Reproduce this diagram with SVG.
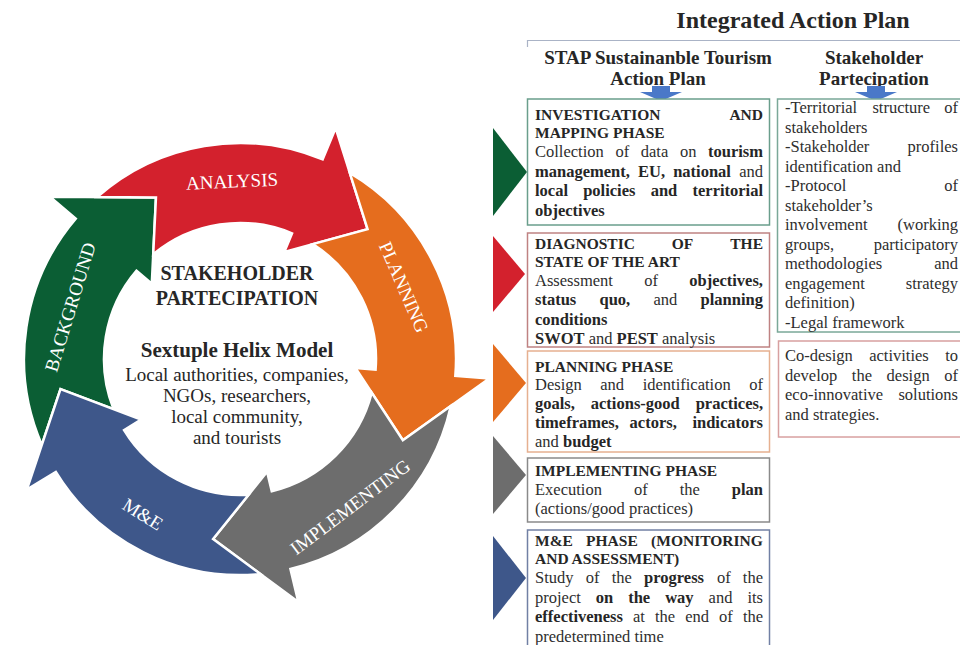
<svg xmlns="http://www.w3.org/2000/svg" xmlns:xlink="http://www.w3.org/1999/xlink" width="960" height="645" viewBox="0 0 960 645">
  <defs>
    <style>
      .lbl { font-family: "Liberation Serif", serif; font-size: 19px; fill: #ffffff; text-anchor: middle; }
      .ctr { font-family: "Liberation Serif", serif; fill: #262626; text-anchor: middle; }
      .hd  { font-family: "Liberation Serif", serif; font-weight: bold; fill: #262626; }
      .h   { font-family: "Liberation Serif", serif; font-weight: bold; font-size: 15.5px; fill: #262626; }
      .r   { font-family: "Liberation Serif", serif; font-size: 16.5px; fill: #2e2e2e; }
      .b   { font-family: "Liberation Serif", serif; font-weight: bold; font-size: 16.5px; fill: #262626; }
      .end { text-anchor: end; }
      .box { fill: #ffffff; stroke-width: 1.5; }
      .seg { stroke: #ffffff; stroke-width: 2.5; stroke-linejoin: miter; }
    </style>
    <!-- one cycle arrow: ring band r 136..216, notched tail, barbed head with its tip at angle 0 -->
    <path id="seg" d="M 15.33 -215.46 A 216 216 0 0 1 200.27 -80.92 L 231.80 -93.65 L 182 0 L 107.55 -43.45 L 126.10 -50.95 A 136 136 0 0 0 13.86 -135.29 L 56.24 -173.09 Z"/>
    <path id="down" d="M -9 0 H 9 V 6 H 21 L 0 15 L -21 6 H -9 Z"/>
  </defs>

  <rect width="960" height="645" fill="#ffffff"/>

  <!-- cycle -->
  <g id="background">
    <use xlink:href="#seg" class="seg" fill="#0b5e34" transform="translate(240 359) rotate(242.5)"/>
    <text class="lbl" transform="translate(70 307) rotate(-73)" dy="0.35em">BACKGROUND</text>
  </g>
  <g id="analysis">
    <use xlink:href="#seg" class="seg" fill="#d3212d" transform="translate(240 359) rotate(314.5)"/>
    <text class="lbl" transform="translate(232 181) rotate(-2.5)" dy="0.35em">ANALYSIS</text>
  </g>
  <g id="planning">
    <use xlink:href="#seg" class="seg" fill="#e56d1e" transform="translate(240 359) rotate(26.5)"/>
    <text class="lbl" transform="translate(404 287) rotate(66.5)" dy="0.35em">PLANNING</text>
  </g>
  <g id="implementing">
    <use xlink:href="#seg" class="seg" fill="#6d6d6d" transform="translate(240 359) rotate(98.5)"/>
    <text class="lbl" transform="translate(350 507) rotate(-37)" dy="0.35em">IMPLEMENTING</text>
  </g>
  <g id="me">
    <use xlink:href="#seg" class="seg" fill="#3e578a" transform="translate(240 359) rotate(170.5)"/>
    <text class="lbl" transform="translate(143 514) rotate(32)" dy="0.35em">M&amp;E</text>
  </g>

  <g id="centre">
    <text class="ctr" x="237" y="280" font-size="20" font-weight="bold">STAKEHOLDER</text>
    <text class="ctr" x="237" y="305" font-size="20" font-weight="bold">PARTECIPATION</text>
    <text class="ctr" x="237" y="357" font-size="21" font-weight="bold">Sextuple Helix Model</text>
    <text class="ctr" x="237" y="381" font-size="19">Local authorities, companies,</text>
    <text class="ctr" x="237" y="402" font-size="19">NGOs, researchers,</text>
    <text class="ctr" x="237" y="423" font-size="19">local community,</text>
    <text class="ctr" x="237" y="444" font-size="19">and tourists</text>
  </g>

  <!-- phase pointers -->
  <g id="pointers">
    <polygon points="493,128 527,172 493,216" fill="#0b5e34"/>
    <polygon points="493,236 525,274 493,312" fill="#d3212d"/>
    <polygon points="493,344 526,383 493,422" fill="#e56d1e"/>
    <polygon points="493,436 526,475 493,514" fill="#6d6d6d"/>
    <polygon points="493,536 526,578 493,620" fill="#3e578a"/>
  </g>

  <!-- header -->
  <g id="header">
    <text class="hd" x="793" y="28" font-size="24" text-anchor="middle">Integrated Action Plan</text>
    <path d="M 527.5 47 V 40.5 H 960" fill="none" stroke="#aab3c6" stroke-width="1.2"/>
    <text class="hd" x="658" y="64" font-size="19" text-anchor="middle">STAP Sustainanble Tourism</text>
    <text class="hd" x="658" y="85" font-size="19" text-anchor="middle">Action Plan</text>
    <text class="hd" x="874" y="64" font-size="19" text-anchor="middle">Stakeholder</text>
    <text class="hd" x="874" y="85" font-size="19" text-anchor="middle">Partecipation</text>
    <use xlink:href="#down" fill="#4a78c8" transform="translate(661 86)"/>
    <use xlink:href="#down" fill="#4a78c8" transform="translate(876 86)"/>
  </g>

  <!-- STAP column -->
  <g id="investigation">
    <rect class="box" x="527.5" y="99" width="242" height="126" stroke="#6a9e8c"/>
    <text class="h" x="535" y="120">INVESTIGATION</text>
    <text class="h end" x="763" y="120">AND</text>
    <text class="h" x="535" y="137.5">MAPPING PHASE</text>
    <text y="157"><tspan class="r" x="535">Collection</tspan><tspan class="r" x="615.4">of</tspan><tspan class="r" x="640.8">data</tspan><tspan class="r" x="679.9">on</tspan><tspan class="b" x="708">tourism</tspan></text>
    <text y="176.5"><tspan class="b" x="535">management,</tspan><tspan class="b" x="638">EU,</tspan><tspan class="b" x="673.2">national</tspan><tspan class="r" x="739.2">and</tspan></text>
    <text y="196"><tspan class="b" x="535">local</tspan><tspan class="b" x="583.2">policies</tspan><tspan class="b" x="650.7">and</tspan><tspan class="b" x="692.5">territorial</tspan></text>
    <text class="b" x="535" y="215.5">objectives</text>
  </g>

  <g id="diagnostic">
    <rect class="box" x="527.5" y="233" width="242" height="114" stroke="#bf8282"/>
    <text class="h" x="535" y="248.5">DIAGNOSTIC</text>
    <text class="h" x="671.8" y="248.5">OF</text>
    <text class="h end" x="763" y="248.5">THE</text>
    <text class="h" x="535" y="266.5">STATE OF THE ART</text>
    <text y="285.5"><tspan class="r" x="535">Assessment</tspan><tspan class="r" x="644.2">of</tspan></text>
    <text class="b end" x="763" y="285.5">objectives,</text>
    <text y="305"><tspan class="b" x="535">status</tspan><tspan class="b" x="599.5">quo,</tspan><tspan class="r" x="653.5">and</tspan><tspan class="b" x="700.6">planning</tspan></text>
    <text class="b" x="535" y="324.5">conditions</text>
    <text x="535" y="343.5"><tspan class="b">SWOT</tspan><tspan class="r"> and </tspan><tspan class="b">PEST</tspan><tspan class="r"> analysis</tspan></text>
  </g>

  <g id="planning-phase">
    <rect class="box" x="527.5" y="351" width="242" height="101" stroke="#e6b090"/>
    <text class="h" x="535" y="371.5">PLANNING PHASE</text>
    <text y="390"><tspan class="r" x="535">Design</tspan><tspan class="r" x="600.3">and</tspan><tspan class="r" x="642.7">identification</tspan><tspan class="r" x="749.3">of</tspan></text>
    <text y="409"><tspan class="b" x="535">goals,</tspan><tspan class="b" x="590.8">actions-good</tspan><tspan class="b" x="695.7">practices,</tspan></text>
    <text y="428"><tspan class="b" x="535">timeframes,</tspan><tspan class="b" x="629.6">actors,</tspan><tspan class="b" x="692.4">indicators</tspan></text>
    <text x="535" y="446.5"><tspan class="r">and </tspan><tspan class="b">budget</tspan></text>
  </g>

  <g id="implementing-phase">
    <rect class="box" x="527.5" y="458" width="242" height="64" stroke="#8a8a8a"/>
    <text class="h" x="535" y="475.5">IMPLEMENTING PHASE</text>
    <text y="494.5"><tspan class="r" x="535">Execution</tspan><tspan class="r" x="633.9">of</tspan><tspan class="r" x="679.7">the</tspan><tspan class="b" x="731.8">plan</tspan></text>
    <text class="r" x="535" y="514">(actions/good practices)</text>
  </g>

  <g id="me-phase">
    <rect class="box" x="527.5" y="530" width="242" height="125" stroke="#7180a4"/>
    <text y="545.5"><tspan class="h" x="535">M&amp;E</tspan><tspan class="h" x="586.1">PHASE</tspan><tspan class="h" x="651.1">(MONITORING</tspan></text>
    <text class="h" x="535" y="563.5">AND ASSESSMENT)</text>
    <text y="583"><tspan class="r" x="535">Study</tspan><tspan class="r" x="585.8">of</tspan><tspan class="r" x="611.7">the</tspan><tspan class="b" x="644.1">progress</tspan><tspan class="r" x="716.9">of</tspan><tspan class="r" x="742.8">the</tspan></text>
    <text y="602.5"><tspan class="r" x="535">project</tspan><tspan class="b" x="595.8">on</tspan><tspan class="b" x="628.2">the</tspan><tspan class="b" x="665.2">way</tspan><tspan class="r" x="708.6">and</tspan><tspan class="r" x="747.4">its</tspan></text>
    <text y="622"><tspan class="b" x="535">effectiveness</tspan><tspan class="r" x="633">at</tspan><tspan class="r" x="655">the</tspan><tspan class="r" x="685.2">end</tspan><tspan class="r" x="719.1">of</tspan><tspan class="r" x="742.9">the</tspan></text>
    <text class="r" x="535" y="641.5">predetermined time</text>
  </g>

  <!-- stakeholder column -->
  <g id="stakeholder-mapping">
    <rect class="box" x="777.5" y="99" width="200" height="233" stroke="#7aa898"/>
    <text y="113"><tspan class="r" x="785">-Territorial</tspan><tspan class="r" x="872.4">structure</tspan><tspan class="r" x="944.3">of</tspan></text>
    <text class="r" x="785" y="132.5">stakeholders</text>
    <text class="r" x="785" y="152">-Stakeholder</text>
    <text class="r end" x="958" y="152">profiles</text>
    <text class="r" x="785" y="171.5">identification and</text>
    <text class="r" x="785" y="191">-Protocol</text>
    <text class="r end" x="958" y="191">of</text>
    <text class="r" x="785" y="210.5">stakeholder’s</text>
    <text class="r" x="785" y="230">involvement</text>
    <text class="r end" x="958" y="230">(working</text>
    <text class="r" x="785" y="249.5">groups,</text>
    <text class="r end" x="958" y="249.5">participatory</text>
    <text class="r" x="785" y="269">methodologies</text>
    <text class="r end" x="958" y="269">and</text>
    <text class="r" x="785" y="288.5">engagement</text>
    <text class="r end" x="958" y="288.5">strategy</text>
    <text class="r" x="785" y="308">definition)</text>
    <text class="r" x="785" y="327.5">-Legal framework</text>
  </g>

  <g id="co-design">
    <rect class="box" x="778.5" y="341" width="200" height="96" stroke="#d8a0a0"/>
    <text y="361"><tspan class="r" x="785">Co-design</tspan><tspan class="r" x="869.2">activities</tspan><tspan class="r" x="945.2">to</tspan></text>
    <text y="380.5"><tspan class="r" x="785">develop</tspan><tspan class="r" x="851.8">the</tspan><tspan class="r" x="886.6">design</tspan><tspan class="r" x="944.3">of</tspan></text>
    <text y="400"><tspan class="r" x="785">eco-innovative</tspan><tspan class="r" x="898.4">solutions</tspan></text>
    <text class="r" x="785" y="419.5">and strategies.</text>
  </g>
</svg>
